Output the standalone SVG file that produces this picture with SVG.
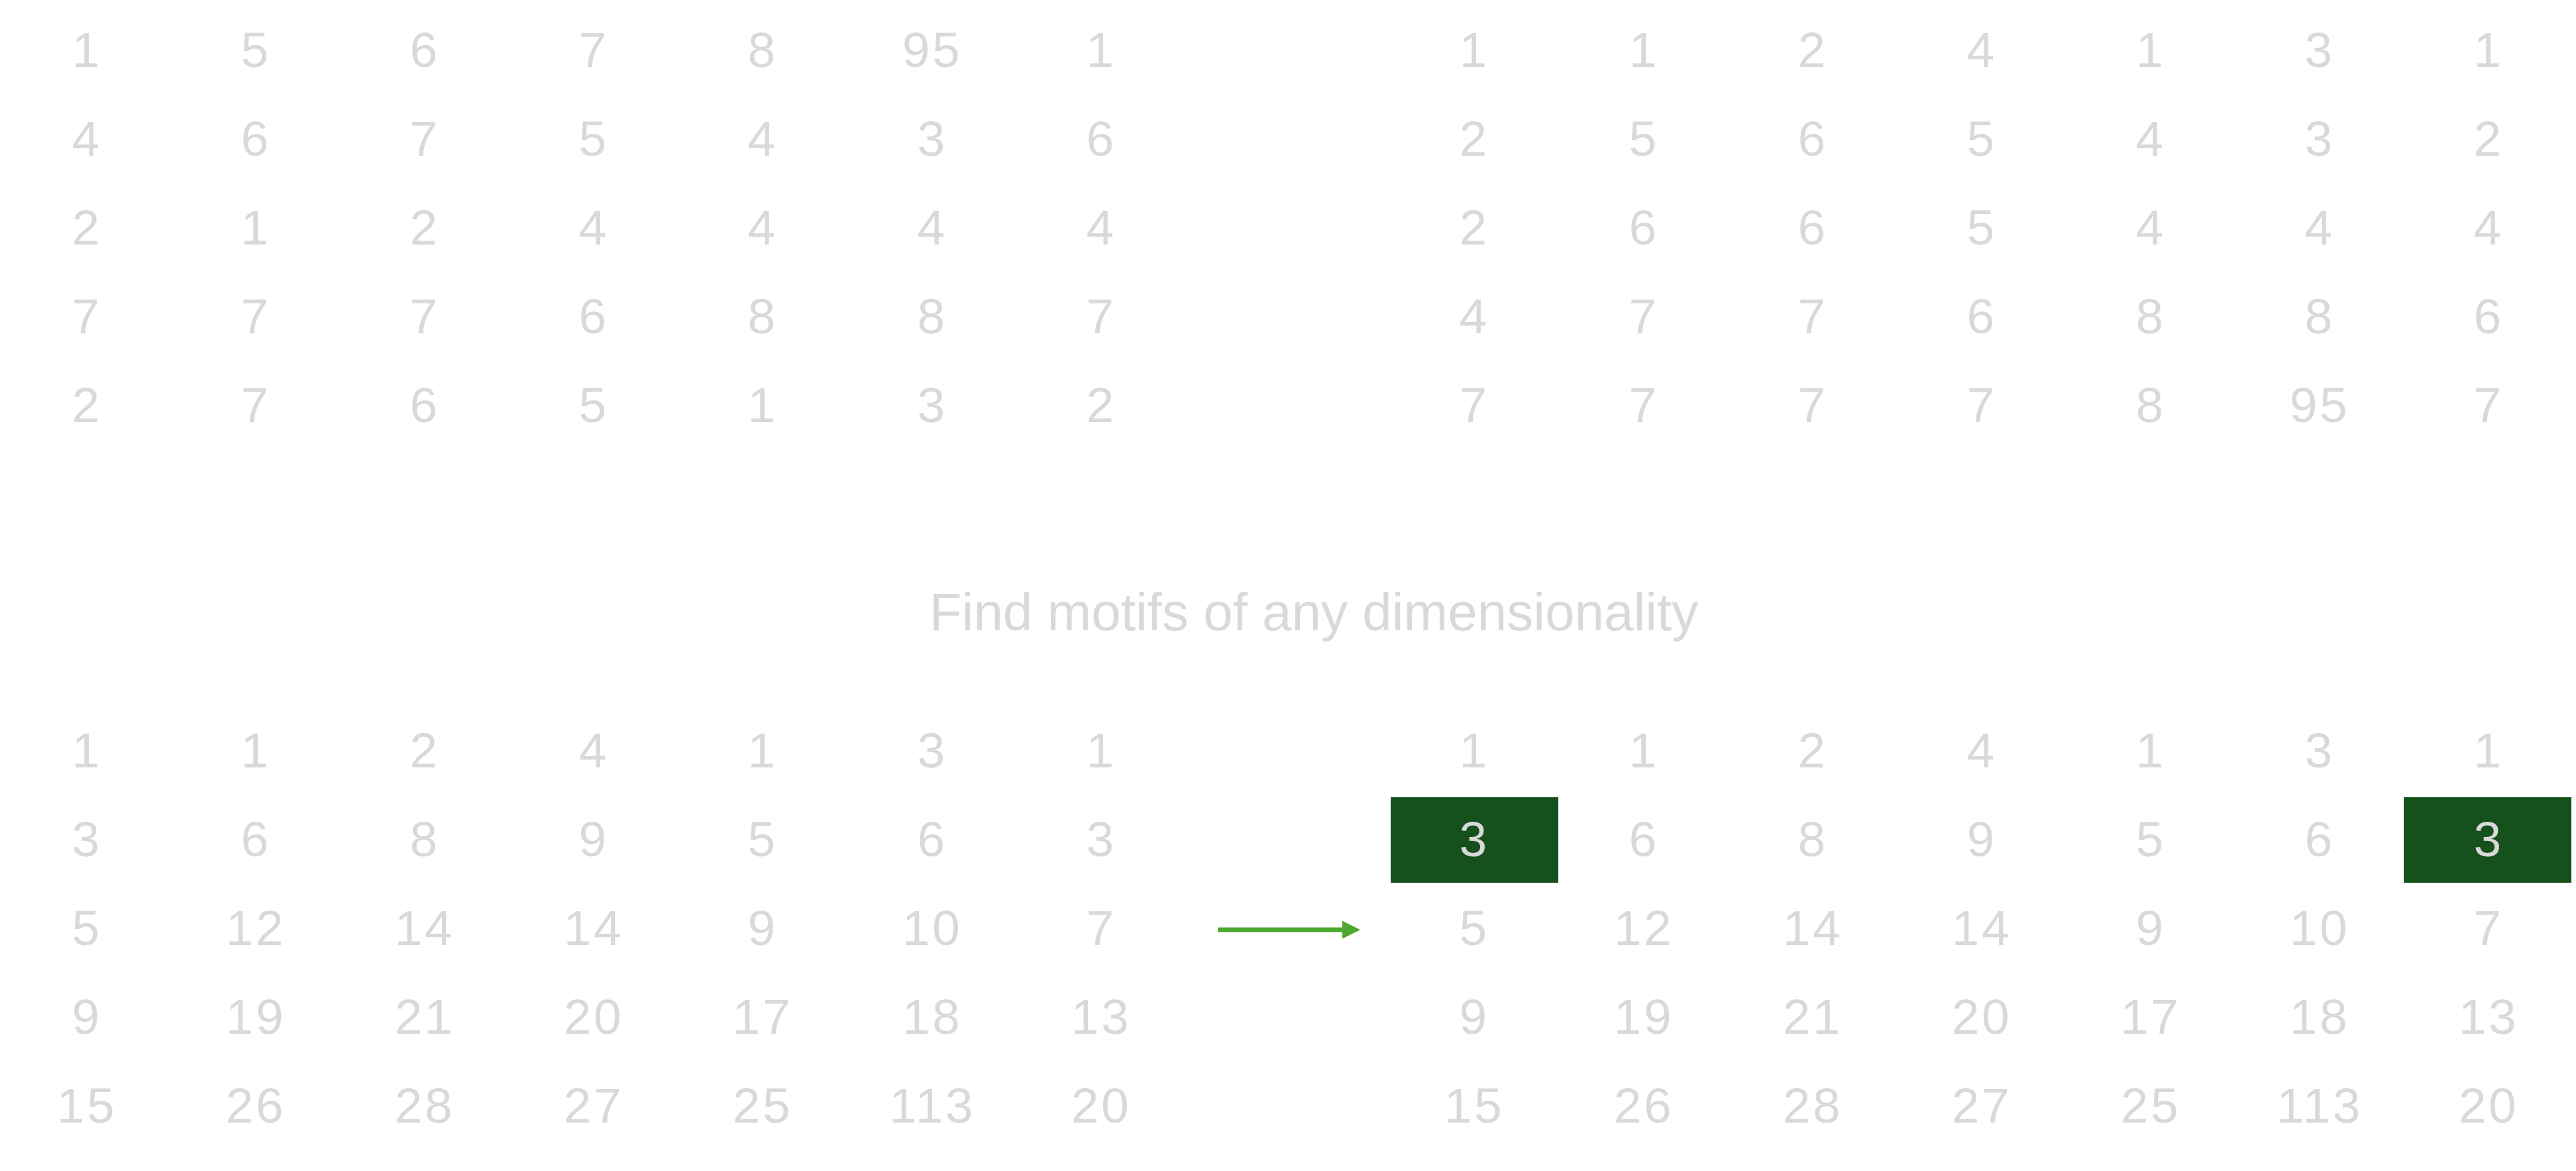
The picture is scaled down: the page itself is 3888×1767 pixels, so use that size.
<svg xmlns="http://www.w3.org/2000/svg" width="3888" height="1767" viewBox="0 0 3888 1767">
<style>
.n{font-family:"Liberation Sans",Arial,sans-serif;font-size:75px;fill:#D9D9D9;text-anchor:middle;letter-spacing:3.5px}
.t{font-family:"Liberation Sans",Arial,sans-serif;font-size:80px;fill:#D9D9D9;text-anchor:middle}
.hl{fill:#15501D}
.arrow{stroke:#4EA72E;stroke-width:7;fill:none}
</style>
<defs>
<marker id="ah" markerUnits="userSpaceOnUse" markerWidth="28" markerHeight="28" refX="0" refY="13.5" orient="auto">
<path d="M0,0 L27,13.5 L0,27 Z" fill="#4EA72E"/>
</marker>
</defs>
<rect width="3888" height="1767" fill="#FFFFFF"/>
<g id="grid-top-left" class="n">
<text x="131" y="101">1</text><text x="386" y="101">5</text><text x="641" y="101">6</text><text x="896" y="101">7</text><text x="1151" y="101">8</text><text x="1407" y="101">95</text><text x="1662" y="101">1</text>
<text x="131" y="235">4</text><text x="386" y="235">6</text><text x="641" y="235">7</text><text x="896" y="235">5</text><text x="1151" y="235">4</text><text x="1407" y="235">3</text><text x="1662" y="235">6</text>
<text x="131" y="369">2</text><text x="386" y="369">1</text><text x="641" y="369">2</text><text x="896" y="369">4</text><text x="1151" y="369">4</text><text x="1407" y="369">4</text><text x="1662" y="369">4</text>
<text x="131" y="503">7</text><text x="386" y="503">7</text><text x="641" y="503">7</text><text x="896" y="503">6</text><text x="1151" y="503">8</text><text x="1407" y="503">8</text><text x="1662" y="503">7</text>
<text x="131" y="637">2</text><text x="386" y="637">7</text><text x="641" y="637">6</text><text x="896" y="637">5</text><text x="1151" y="637">1</text><text x="1407" y="637">3</text><text x="1662" y="637">2</text>
</g>
<g id="grid-top-right" class="n">
<text x="2225" y="101">1</text><text x="2481" y="101">1</text><text x="2736" y="101">2</text><text x="2991" y="101">4</text><text x="3246" y="101">1</text><text x="3501" y="101">3</text><text x="3756" y="101">1</text>
<text x="2225" y="235">2</text><text x="2481" y="235">5</text><text x="2736" y="235">6</text><text x="2991" y="235">5</text><text x="3246" y="235">4</text><text x="3501" y="235">3</text><text x="3756" y="235">2</text>
<text x="2225" y="369">2</text><text x="2481" y="369">6</text><text x="2736" y="369">6</text><text x="2991" y="369">5</text><text x="3246" y="369">4</text><text x="3501" y="369">4</text><text x="3756" y="369">4</text>
<text x="2225" y="503">4</text><text x="2481" y="503">7</text><text x="2736" y="503">7</text><text x="2991" y="503">6</text><text x="3246" y="503">8</text><text x="3501" y="503">8</text><text x="3756" y="503">6</text>
<text x="2225" y="637">7</text><text x="2481" y="637">7</text><text x="2736" y="637">7</text><text x="2991" y="637">7</text><text x="3246" y="637">8</text><text x="3501" y="637">95</text><text x="3756" y="637">7</text>
</g>
<g id="title">
<text class="t" x="1983" y="951">Find motifs of any dimensionality</text>
</g>
<g id="grid-bottom-left" class="n">
<text x="131" y="1158">1</text><text x="386" y="1158">1</text><text x="641" y="1158">2</text><text x="896" y="1158">4</text><text x="1151" y="1158">1</text><text x="1407" y="1158">3</text><text x="1662" y="1158">1</text>
<text x="131" y="1292">3</text><text x="386" y="1292">6</text><text x="641" y="1292">8</text><text x="896" y="1292">9</text><text x="1151" y="1292">5</text><text x="1407" y="1292">6</text><text x="1662" y="1292">3</text>
<text x="131" y="1426">5</text><text x="386" y="1426">12</text><text x="641" y="1426">14</text><text x="896" y="1426">14</text><text x="1151" y="1426">9</text><text x="1407" y="1426">10</text><text x="1662" y="1426">7</text>
<text x="131" y="1560">9</text><text x="386" y="1560">19</text><text x="641" y="1560">21</text><text x="896" y="1560">20</text><text x="1151" y="1560">17</text><text x="1407" y="1560">18</text><text x="1662" y="1560">13</text>
<text x="131" y="1694">15</text><text x="386" y="1694">26</text><text x="641" y="1694">28</text><text x="896" y="1694">27</text><text x="1151" y="1694">25</text><text x="1407" y="1694">113</text><text x="1662" y="1694">20</text>
</g>
<g id="highlight-left">
<rect class="hl" x="2099" y="1203" width="253" height="129"/>
</g>
<g id="highlight-right">
<rect class="hl" x="3628" y="1203" width="253" height="129"/>
</g>
<g id="grid-bottom-right" class="n">
<text x="2225" y="1158">1</text><text x="2481" y="1158">1</text><text x="2736" y="1158">2</text><text x="2991" y="1158">4</text><text x="3246" y="1158">1</text><text x="3501" y="1158">3</text><text x="3756" y="1158">1</text>
<text x="2225" y="1292">3</text><text x="2481" y="1292">6</text><text x="2736" y="1292">8</text><text x="2991" y="1292">9</text><text x="3246" y="1292">5</text><text x="3501" y="1292">6</text><text x="3756" y="1292">3</text>
<text x="2225" y="1426">5</text><text x="2481" y="1426">12</text><text x="2736" y="1426">14</text><text x="2991" y="1426">14</text><text x="3246" y="1426">9</text><text x="3501" y="1426">10</text><text x="3756" y="1426">7</text>
<text x="2225" y="1560">9</text><text x="2481" y="1560">19</text><text x="2736" y="1560">21</text><text x="2991" y="1560">20</text><text x="3246" y="1560">17</text><text x="3501" y="1560">18</text><text x="3756" y="1560">13</text>
<text x="2225" y="1694">15</text><text x="2481" y="1694">26</text><text x="2736" y="1694">28</text><text x="2991" y="1694">27</text><text x="3246" y="1694">25</text><text x="3501" y="1694">113</text><text x="3756" y="1694">20</text>
</g>
<g id="connectors">
<line class="arrow" x1="1838" y1="1403" x2="2026" y2="1403" marker-end="url(#ah)"/>
</g>
</svg>
